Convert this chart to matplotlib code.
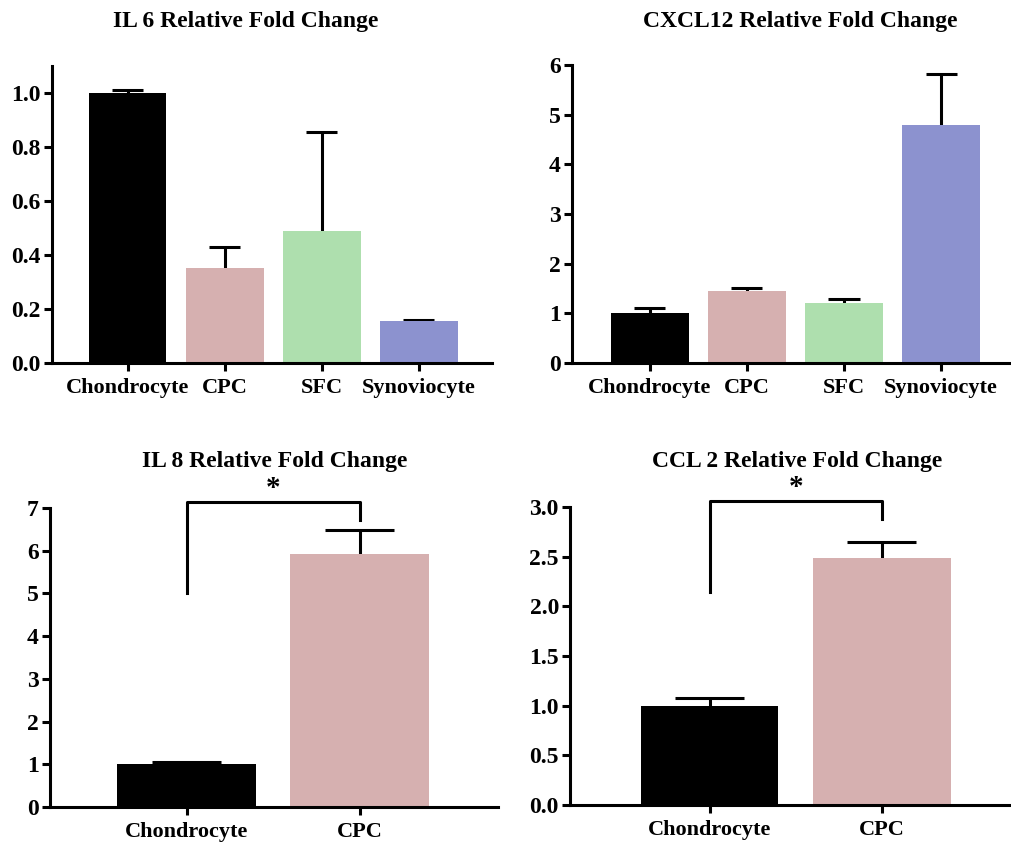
import matplotlib
matplotlib.use('Agg')
import matplotlib.pyplot as plt

plt.rcParams['font.family'] = ['Liberation Serif', 'DejaVu Serif']
plt.rcParams['font.weight'] = 'bold'

# данные
cells4 = ['Chondrocyte', 'CPC', 'SFC', 'Synoviocyte']
cells2 = ['Chondrocyte', 'CPC']
colors4 = ['#000000', '#d6b0b0', '#aedfae', '#8c92cf']

il6_mean = [1.0, 0.35, 0.49, 0.155]
il6_err = [0.01, 0.08, 0.365, 0.005]

cxcl12_mean = [1.0, 1.45, 1.2, 4.8]
cxcl12_err = [0.1, 0.07, 0.08, 1.02]

il8_mean = [1.0, 5.93]
il8_err = [0.05, 0.55]

ccl2_mean = [1.0, 2.49]
ccl2_err = [0.08, 0.16]

W, H = 1012, 846
fig = plt.figure(figsize=(W / 100, H / 100), dpi=100)


def make_ax(l, r, b, t):
    return fig.add_axes([l / W, 1 - b / H, (r - l) / W, (b - t) / H])


def panel(ax, labels, means, errs, ylim, yticks, fmt, xlim, cap):
    x = list(range(len(labels)))
    tops = [m + e for m, e in zip(means, errs)]
    ax.bar(x, means, width=0.8, color=colors4[:len(labels)], zorder=2)
    # только верхняя половина планки погрешности
    ax.vlines(x, means, tops, color='black', lw=2.2, zorder=1)
    ax.hlines(tops, [i - cap for i in x], [i + cap for i in x], color='black', lw=2.2, zorder=1)
    ax.set_xlim(*xlim)
    ax.set_ylim(*ylim)
    ax.set_yticks(yticks)
    ax.set_yticklabels([fmt.format(v) for v in yticks])
    ax.set_xticks(x)
    ax.set_xticklabels(labels)
    for s in ['top', 'right']:
        ax.spines[s].set_visible(False)
    for s in ['left', 'bottom']:
        ax.spines[s].set_linewidth(2.2)
    ax.tick_params(width=2.2, length=6)
    ax.tick_params(axis='y', labelsize=17, pad=2)
    ax.tick_params(axis='x', labelsize=16, pad=5)


def bracket(ax, x1, x2, y1, y2, top):
    ax.plot([x1, x1, x2, x2], [y1, top, top, y2], color='black', lw=2.2, clip_on=False)
    ax.text((x1 + x2) / 2, top, '*', ha='center', va='bottom', fontsize=21, clip_on=False)


ax1 = make_ax(52, 492, 363, 66)
panel(ax1, cells4, il6_mean, il6_err, (0, 1.1), [0, 0.2, 0.4, 0.6, 0.8, 1.0], '{:.1f}',
      (-0.78, 3.755), 0.16)

ax2 = make_ax(572, 1012, 363, 65)
panel(ax2, cells4, cxcl12_mean, cxcl12_err, (0, 6), [0, 1, 2, 3, 4, 5, 6], '{:.0f}',
      (-0.8, 3.73), 0.16)

ax3 = make_ax(50, 498, 807, 508)
panel(ax3, cells2, il8_mean, il8_err, (0, 7), [0, 1, 2, 3, 4, 5, 6, 7], '{:.0f}',
      (-0.79, 1.8), 0.2)
bracket(ax3, 0, 1, 5.0, 6.72, 7.14)

ax4 = make_ax(570, 1012, 805, 507)
panel(ax4, cells2, ccl2_mean, ccl2_err, (0, 3), [0, 0.5, 1.0, 1.5, 2.0, 2.5, 3.0], '{:.1f}',
      (-0.81, 1.756), 0.2)
bracket(ax4, 0, 1, 2.14, 2.88, 3.06)

titles = [('IL 6 Relative Fold Change', 246, 27),
          ('CXCL12 Relative Fold Change', 800, 27),
          ('IL 8 Relative Fold Change', 275, 467),
          ('CCL 2 Relative Fold Change', 797, 467)]
for txt, xp, yp in titles:
    fig.text(xp / W, 1 - yp / H, txt, ha='center', va='baseline', fontsize=17, fontweight='bold')

fig.savefig('out.png', dpi=100)
